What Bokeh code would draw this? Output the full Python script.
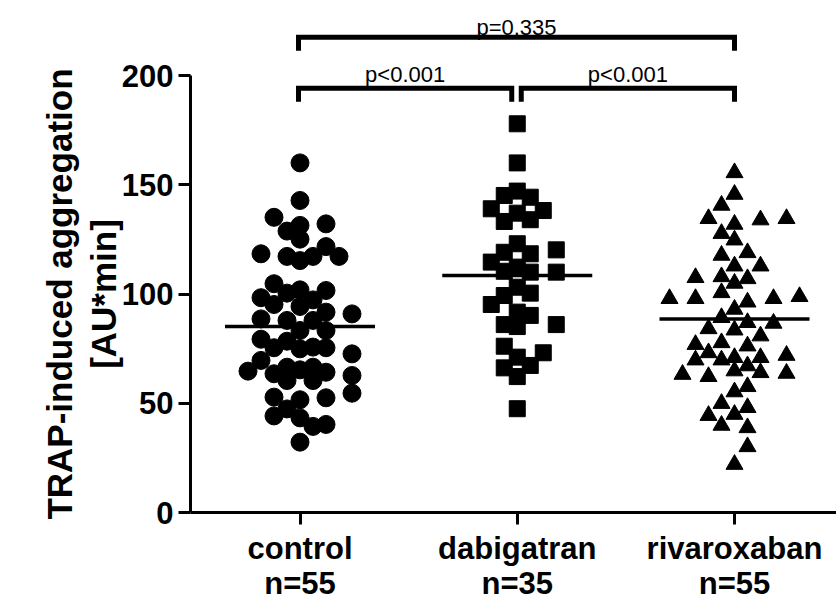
import math
import numpy as np
from bokeh.plotting import figure
from bokeh.models import Range1d, FixedTicker, Label
from bokeh.core.properties import value
from bokeh.embed import file_html
from bokeh.resources import INLINE

# ---------------- data ----------------
categories = ["control", "dabigatran", "rivaroxaban"]
group_n = [55, 35, 55]
markers = ["circle", "square", "triangle"]

control = [160.0, 142.8, 135.1, 131.4, 132.1, 128.8, 125.1, 121.7, 118.4, 117.2,
           117.2, 117.2, 115.3, 104.7, 101.9, 98.3, 100.4, 101.6, 97.3, 95.2,
           94.3, 91.7, 90.9, 88.6, 87.9, 87.9, 83.3, 83.3, 79.3, 78.4,
           75.7, 75.4, 74.9, 75.4, 72.6, 69.6, 66.5, 64.7, 63.5, 65.3,
           66.5, 64.2, 62.7, 60.4, 60.4, 52.8, 51.6, 52.5, 54.6, 47.4,
           44.2, 43.3, 40.3, 39.4, 32.2]
dabigatran = [177.9, 160.0, 145.1, 147.1, 144.3, 139.0, 137.0, 138.2, 133.2, 134.0,
              123.0, 119.1, 118.4, 120.2, 114.6, 112.3, 110.4, 110.0, 110.0, 103.1,
              99.3, 100.4, 95.2, 91.7, 86.0, 90.2, 85.1, 86.0, 76.1, 71.1,
              73.1, 66.2, 67.3, 62.2, 47.5]
rivaroxaban = [155.5, 145.6, 140.6, 134.5, 131.9, 133.9, 134.5, 127.7, 124.7, 117.7,
               118.9, 112.8, 112.8, 107.5, 107.9, 107.0, 104.9, 97.9, 97.9, 100.6,
               96.3, 97.9, 98.8, 89.2, 86.9, 86.6, 84.1, 83.5, 80.8, 76.9,
               77.7, 76.2, 73.1, 70.9, 69.8, 69.8, 70.9, 71.9, 67.1, 63.2,
               62.2, 64.8, 64.0, 63.7, 57.6, 55.2, 49.9, 44.4, 48.0, 44.9,
               39.9, 38.8, 30.1, 22.0, 93.0]
groups = [control, dabigatran, rivaroxaban]
medians = [85.1, 108.5, 88.6]

comparisons = [(0, 1), (1, 2), (0, 2)]
p_labels = ["p<0.001", "p<0.001", "p=0.335"]
y_ticks = [0, 50, 100, 150, 200]
y_title = ["TRAP-induced aggregation", "[AU*min]"]

# ---------------- layout (pixel geometry of the frame) ----------------
W, H = 836, 603
AXIS_X_PX = 190.0      # screen x of the y-axis line
ZERO_Y_PX = 512.0      # screen y of value 0
CAT0_X_PX = 299.5      # screen x of first category
px_per_x = 217.25      # pixels between categories
px_per_y = 2.185       # pixels per unit


def dx(px):
    return (px - CAT0_X_PX) / px_per_x


def dy(py):
    return (ZERO_Y_PX - py) / px_per_y


x_range = Range1d(dx(0), dx(W))
y_range = Range1d(dy(H), dy(0))

FONT_NAME = "Liberation Sans"
FONT = value(FONT_NAME)

p = figure(width=W, height=H, x_range=x_range, y_range=y_range,
           output_backend="svg", toolbar_location=None,
           min_border_left=0, min_border_bottom=0,
           min_border_top=0, min_border_right=0)
p.outline_line_color = None
p.xgrid.visible = False
p.ygrid.visible = False
p.background_fill_color = "white"
p.border_fill_color = "white"


def swarm(vals, row_px=11.0, step_px=26.0):
    """Prism-style scatter: bin values into rows, spread each row symmetrically,
    alternating the horizontal lattice between neighbouring rows."""
    ypx = np.asarray(vals) * px_per_y
    bins = np.floor(ypx / row_px).astype(int)
    offs = [0.0] * len(vals)
    prev_bin, prev_par, shift_dir = None, None, 1
    for b in sorted(set(bins.tolist())):
        idx = [i for i in range(len(vals)) if bins[i] == b]
        n = len(idx)
        pos = [(k - (n - 1) / 2) * step_px for k in range(n)]
        par = n % 2
        if prev_bin is not None and b == prev_bin + 1 and par == prev_par:
            pos = [x + shift_dir * step_px / 2 for x in pos]
            shift_dir = -shift_dir
            par = 1 - par
        for k, i in enumerate(idx):
            offs[i] = pos[k] / px_per_x
        prev_bin, prev_par = b, par
    return offs


marker_size = {"circle": 18, "square": 16, "triangle": 17}

for gi, (vals, mk) in enumerate(zip(groups, markers)):
    offs = swarm(vals)
    xs = [gi + o for o in offs]
    p.scatter(xs, vals, marker=mk, size=marker_size[mk],
              fill_color="black", line_color="black", line_width=1)

# median lines
half = 75 / px_per_x
p.segment(x0=[i - half for i in range(len(medians))],
          x1=[i + half for i in range(len(medians))],
          y0=medians, y1=medians, line_color="black", line_width=3.5)

# significance brackets
lower_y, upper_y = 194.2, 217.5
leg = 6.2
gap = 5.5 / px_per_x
level_of = [lower_y if (b - a) == 1 else upper_y for a, b in comparisons]
bxs, bys, tx, ty = [], [], [], []
for k, ((a, b), ly) in enumerate(zip(comparisons, level_of)):
    shared_a = any(c[1] == a and level_of[j] == ly for j, c in enumerate(comparisons) if j != k)
    shared_b = any(c[0] == b and level_of[j] == ly for j, c in enumerate(comparisons) if j != k)
    xa = a + (gap if shared_a else 0) - 1.5 / px_per_x
    xb = b - (gap if shared_b else 0)
    bxs.append([xa, xa, xb, xb])
    bys.append([ly - leg, ly, ly, ly - leg])
    tx.append((xa + xb) / 2)
    ty.append(ly + (6.3 if ly == lower_y else 4.5))
p.multi_line(bxs, bys, line_color="black", line_width=5, line_join="miter")
p.text(tx, ty, text=p_labels, text_font=FONT, text_font_size="22px",
       text_align="center", text_baseline="alphabetic", text_color="black")

# axes, pinned at x-axis value 0 and at the left edge of the data area
for ax in (p.xaxis[0], p.yaxis[0]):
    ax.axis_line_width = 3
    ax.axis_line_color = "black"
    ax.major_tick_line_width = 3
    ax.major_tick_line_color = "black"
    ax.major_tick_out = 12
    ax.major_tick_in = 0
    ax.minor_tick_line_color = None
    ax.major_label_text_font = FONT_NAME
    ax.major_label_text_font_style = "bold"
    ax.major_label_text_color = "black"

p.yaxis.fixed_location = dx(AXIS_X_PX)
p.yaxis.ticker = FixedTicker(ticks=y_ticks)
p.yaxis.bounds = (y_ticks[0], y_ticks[-1])
p.yaxis.major_label_text_font_size = "31px"
p.yaxis.major_label_standoff = 5

p.xaxis.fixed_location = 0
p.xaxis.bounds = (dx(AXIS_X_PX), dx(W))
p.xaxis.ticker = FixedTicker(ticks=list(range(len(categories))))
p.xaxis.major_label_overrides = {i: f"{c}\nn={n}" for i, (c, n) in enumerate(zip(categories, group_n))}
p.xaxis.major_label_text_font_size = "31px"
p.xaxis.major_label_text_line_height = 1.0
p.xaxis.major_label_standoff = 6

# y-axis title (two lines)
title_y = (y_ticks[0] + y_ticks[-1]) / 2
for txt, sx in zip(y_title, (59, 103)):
    p.add_layout(Label(x=dx(sx), y=title_y, x_units="data", y_units="data",
                       text=txt, angle=math.pi / 2, text_align="center",
                       text_baseline="alphabetic", text_font=FONT_NAME,
                       text_font_size="35px", text_font_style="bold", text_color="black"))

open("out.html", "w").write(file_html(p, INLINE))
